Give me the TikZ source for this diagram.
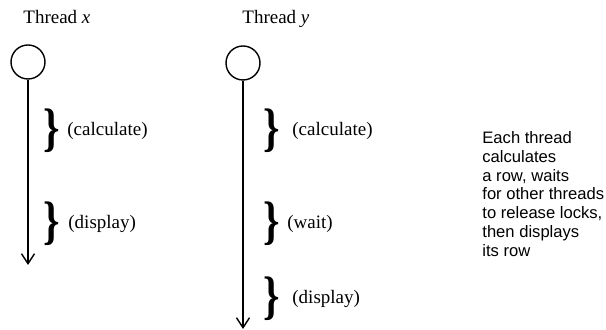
\documentclass[tikz,border=0pt]{standalone}
\usepackage{fontspec}
\usepackage{graphicx}
\setmainfont{Liberation Serif}
\setsansfont{Liberation Sans}
\usetikzlibrary{arrows.meta}

\newcommand{\phasebrace}{\scalebox{0.95}[1.2]{\}}}

\tikzset{
    threadhead/.style={draw, circle, minimum size=17pt, inner sep=0pt, line width=0.7pt},
    timeline/.style={line width=0.7pt, -{Straight Barb[length=5pt, width=6.5pt]}},
    title/.style={anchor=base west, inner sep=0pt, font=\fontsize{9.5}{11}\selectfont},
    phase/.style={anchor=west, inner sep=0pt, font=\fontsize{9.5}{11}\selectfont},
    bracket/.style={inner sep=0pt, font=\fontsize{22}{22}\selectfont\bfseries}
}

\begin{document}
\begin{tikzpicture}[x=0.5pt, y=-0.5pt]
    \useasboundingbox (0,0) rectangle (606,330);

    % thread x
    \node[title] (tx) at (23,24) {Thread \textit{x}};
    \node[threadhead] (cx) at (28,62) {};
    \coordinate (ex) at (28,265);
    \draw[timeline] (cx) -- (ex);
    \node[bracket] (bx1) at (52,131) {\phasebrace};
    \node[phase] (px1) at (67,131) {(calculate)};
    \node[bracket] (bx2) at (52,224) {\phasebrace};
    \node[phase] (px2) at (68,224) {(display)};

    % thread y
    \node[title] (ty) at (242,24) {Thread \textit{y}};
    \node[threadhead] (cy) at (243,63) {};
    \coordinate (ey) at (243,329);
    \draw[timeline] (cy) -- (ey);
    \node[bracket] (by1) at (272,131) {\phasebrace};
    \node[phase] (py1) at (292,131) {(calculate)};
    \node[bracket] (by2) at (272,224) {\phasebrace};
    \node[phase] (py2) at (287,224) {(wait)};
    \node[bracket] (by3) at (272,299) {\phasebrace};
    \node[phase] (py3) at (292,299) {(display)};

    % note on the right
    \node[anchor=north west, align=left, inner sep=0pt,
          font=\sffamily\fontsize{8.3}{9.4}\selectfont] (note) at (482,131)
        {Each thread\\calculates\\a row, waits\\for other threads\\to release locks,\\then displays\\its row};
\end{tikzpicture}
\end{document}
